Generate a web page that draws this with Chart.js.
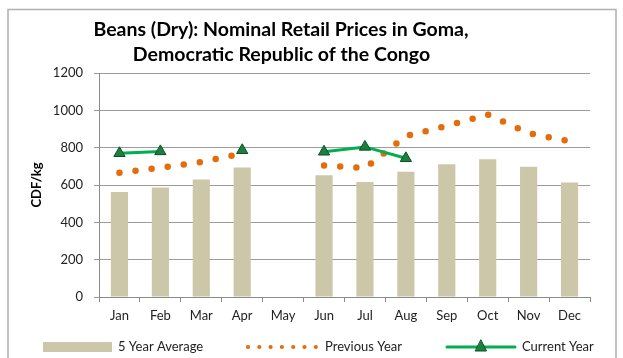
<!DOCTYPE html>
<html>
<head>
<meta charset="utf-8">
<title>Beans (Dry): Nominal Retail Prices in Goma</title>
<script src="https://cdn.jsdelivr.net/npm/chart.js@4.4.0/dist/chart.umd.min.js"></script>
<style>
  html, body { margin: 0; padding: 0; background: #fff; }
  canvas { display: block; }
</style>
</head>
<body>
<canvas id="prices" width="623" height="358"></canvas>
<script>
const months = ['Jan', 'Feb', 'Mar', 'Apr', 'May', 'Jun', 'Jul', 'Aug', 'Sep', 'Oct', 'Nov', 'Dec'];
const fiveYearAverage = [562, 586, 630, 694, null, 652, 616, 671, 711, 738, 698, 614];
const previousYear = [666, 693, 723, 768, null, 705, 690, 862, 917, 977, 878, 834];
const currentYear = [770, 780, null, 786, null, 778, 804, 743, null, null, null, null];
const yMax = 1200;
const yStep = 200;

const titleLines = ['Beans (Dry): Nominal Retail Prices in Goma,', 'Democratic Republic of the Congo'];
const yTitle = 'CDF/kg';
const legendNames = ['5 Year Average', 'Previous Year', 'Current Year'];

const BAR_COLOR = '#CDC7AA';
const PREV_COLOR = '#E46C0A';
const CURR_COLOR = '#00B050';
const TRI_FILL = '#1C7F40';
const TRI_EDGE = '#0C4F24';
const FONT = 'Lato, "Liberation Sans", sans-serif';

// frame, title, rotated axis title and the bottom legend
const decorations = {
  id: 'decorations',
  beforeDraw(chart) {
    const ctx = chart.ctx;
    ctx.save();
    ctx.strokeStyle = '#B0B0B0';
    ctx.lineWidth = 1.5;
    ctx.beginPath();
    ctx.moveTo(8, 370);
    ctx.lineTo(8, 9.5);
    ctx.lineTo(616, 9.5);
    ctx.lineTo(616, 370);
    ctx.stroke();
    ctx.restore();
  },
  afterDraw(chart) {
    const ctx = chart.ctx;
    ctx.save();
    ctx.fillStyle = '#000';
    ctx.textAlign = 'center';
    ctx.textBaseline = 'alphabetic';
    ctx.font = 'bold 19.5px ' + FONT;
    ctx.fillText(titleLines[0], 281, 35.5, 381);
    ctx.fillText(titleLines[1], 281.5, 60.5, 299);

    ctx.save();
    ctx.translate(37, 185);
    ctx.rotate(-Math.PI / 2);
    ctx.font = 'bold 13px ' + FONT;
    ctx.textBaseline = 'middle';
    ctx.fillText(yTitle, 0, 0);
    ctx.restore();

    const ly = 347;
    ctx.font = '13px ' + FONT;
    ctx.textAlign = 'left';
    ctx.textBaseline = 'middle';

    ctx.fillStyle = BAR_COLOR;
    ctx.fillRect(43, ly - 5, 69, 10);
    ctx.fillStyle = '#222';
    ctx.fillText(legendNames[0], 118, ly);

    ctx.fillStyle = PREV_COLOR;
    for (let i = 0; i < 7; i++) {
      ctx.beginPath();
      ctx.arc(248 + i * 11.3, ly, 2.1, 0, Math.PI * 2);
      ctx.fill();
    }
    ctx.fillStyle = '#222';
    ctx.fillText(legendNames[1], 325, ly);

    ctx.strokeStyle = CURR_COLOR;
    ctx.lineWidth = 3;
    ctx.lineCap = 'round';
    ctx.beginPath();
    ctx.moveTo(447, ly);
    ctx.lineTo(515, ly);
    ctx.stroke();
    ctx.fillStyle = TRI_FILL;
    ctx.strokeStyle = TRI_EDGE;
    ctx.lineWidth = 1;
    ctx.beginPath();
    ctx.moveTo(481, ly - 7);
    ctx.lineTo(486.5, ly + 4);
    ctx.lineTo(475.5, ly + 4);
    ctx.closePath();
    ctx.fill();
    ctx.stroke();
    ctx.fillStyle = '#222';
    ctx.fillText(legendNames[2], 522, ly);
    ctx.restore();
  }
};

new Chart(document.getElementById('prices'), {
  type: 'bar',
  data: {
    labels: months,
    datasets: [
      {
        type: 'line',
        label: legendNames[2],
        data: currentYear,
        order: 0,
        borderColor: CURR_COLOR,
        borderWidth: 3,
        spanGaps: false,
        tension: 0,
        pointStyle: 'triangle',
        pointRadius: 6.5,
        pointBackgroundColor: TRI_FILL,
        pointBorderColor: TRI_EDGE,
        pointBorderWidth: 1
      },
      {
        type: 'line',
        label: legendNames[1],
        data: previousYear,
        order: 1,
        borderColor: PREV_COLOR,
        borderWidth: 6.5,
        borderDash: [0, 16.2],
        borderCapStyle: 'round',
        spanGaps: false,
        tension: 0,
        pointRadius: 0
      },
      {
        label: legendNames[0],
        data: fiveYearAverage,
        order: 2,
        backgroundColor: BAR_COLOR,
        barPercentage: 0.42,
        categoryPercentage: 1
      }
    ]
  },
  options: {
    responsive: false,
    animation: false,
    devicePixelRatio: 1,
    layout: { padding: { top: 73, right: 33, bottom: 0, left: 0 } },
    plugins: {
      legend: { display: false },
      title: { display: false },
      tooltip: { enabled: false }
    },
    scales: {
      x: {
        offset: true,
        grid: { offset: true, drawOnChartArea: false, tickLength: 5, color: '#8A8A8A' },
        border: { color: '#8A8A8A' },
        ticks: { font: { family: FONT, size: 13 }, color: '#222', padding: 6 },
        afterFit(scale) { scale.height = 61; }
      },
      y: {
        min: 0,
        max: yMax,
        grid: { tickLength: 5, color: '#9C9C9C' },
        border: { color: '#8A8A8A' },
        ticks: {
          stepSize: yStep,
          font: { family: FONT, size: 13 },
          color: '#222',
          padding: 11,
          callback: (value) => String(value)
        },
        afterFit(scale) { scale.width = 99; }
      }
    }
  },
  plugins: [decorations]
});
</script>
</body>
</html>
